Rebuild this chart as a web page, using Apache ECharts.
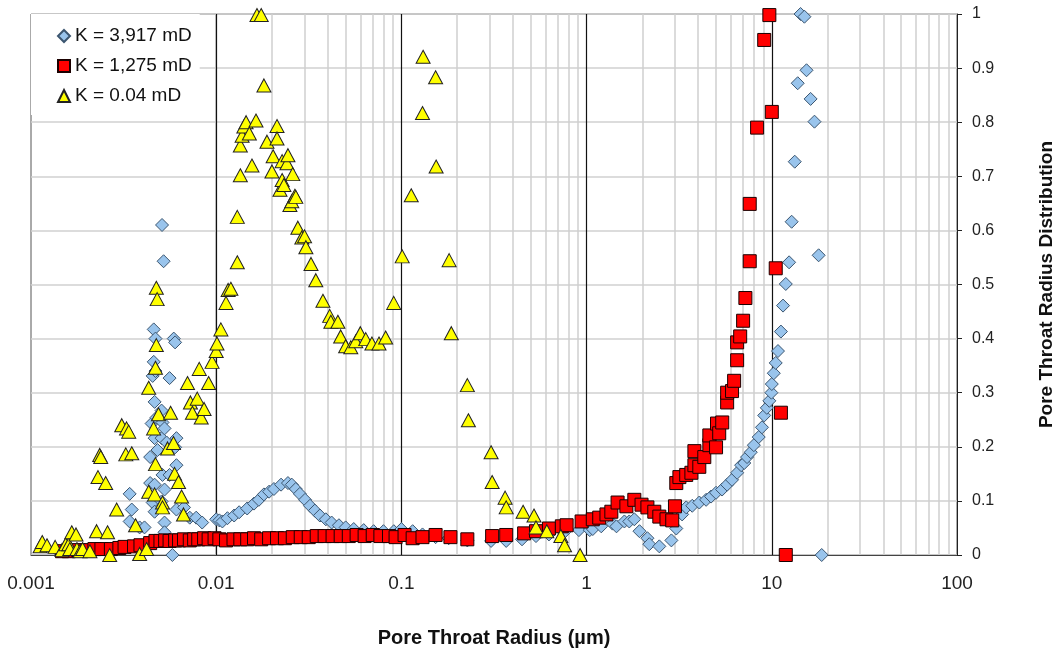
<!DOCTYPE html>
<html>
<head>
<meta charset="utf-8">
<script src="https://cdn.jsdelivr.net/npm/echarts@6/dist/echarts.min.js"></script>
<style>
html,body{margin:0;padding:0;background:#fff;}
#chart{width:1064px;height:653px;}
</style>
</head>
<body>
<div id="chart"></div>
<script>
// ---- Data (x = pore throat radius in µm, y = distribution) ----
const seriesNames = ['K = 3,917 mD', 'K = 1,275 mD', 'K = 0.04 mD'];
const xTickLabels = ['0.001', '0.01', '0.1', '1', '10', '100'];
const yTickLabels = ['0', '0.1', '0.2', '0.3', '0.4', '0.5', '0.6', '0.7', '0.8', '0.9', '1'];

const k3917 = [
  [0.0014,0.007],[0.0019,0.009],[0.0027,0.011],[0.003,0.015],
  [0.00341,0.113],[0.00341,0.062],[0.0035,0.084],[0.00386,0.051],[0.0041,0.051],
  [0.0044,0.181],[0.0044,0.133],[0.00448,0.243],[0.00454,0.331],[0.00454,0.097],[0.00454,0.026],
  [0.00465,0.283],[0.00465,0.216],[0.00465,0.13],[0.00465,0.08],[0.00476,0.254],[0.00482,0.194],
  [0.00507,0.267],[0.00507,0.216],[0.00507,0.099],[0.00513,0.245],[0.00513,0.148],
  [0.00526,0.234],[0.00526,0.121],[0.00526,0.06],[0.00526,0.042],[0.0054,0.208],
  [0.0056,0.327],[0.0056,0.148],[0.0058,0.0],[0.006,0.199],[0.0061,0.216],[0.0061,0.166],
  [0.0061,0.084],[0.0067,0.088],[0.0072,0.069],[0.0078,0.069],[0.0084,0.06],
  [0.0051,0.61],[0.0052,0.543],[0.0046,0.417],[0.0047,0.40],[0.0059,0.40],[0.006,0.393],[0.0046,0.357],[0.0047,0.34],
  [0.01,0.066],[0.0104,0.064],[0.0108,0.062],[0.0115,0.068],[0.0125,0.073],[0.0133,0.079],
  [0.0147,0.086],[0.016,0.095],[0.017,0.102],[0.0181,0.112],[0.0193,0.117],[0.0205,0.122],
  [0.0224,0.13],[0.0244,0.133],[0.0256,0.13],[0.0269,0.122],[0.0283,0.113],[0.0302,0.102],
  [0.0321,0.091],[0.0341,0.082],[0.0363,0.073],[0.0391,0.066],[0.042,0.06],[0.046,0.055],
  [0.05,0.051],[0.0553,0.048],[0.0626,0.046],[0.0708,0.044],[0.08,0.044],[0.091,0.044],
  [0.1,0.048],[0.115,0.044],[0.13,0.038],[0.153,0.033],[0.18,0.031],[0.227,0.027],
  [0.305,0.026],[0.368,0.026],[0.448,0.029],[0.533,0.035],[0.626,0.038],[0.756,0.042],
  [0.909,0.046],[1.04,0.046],[1.08,0.048],[1.2,0.053],[1.38,0.058],[1.45,0.053],
  [1.6,0.062],[1.7,0.062],[1.81,0.066],[1.93,0.044],[2.13,0.031],[2.18,0.02],
  [2.47,0.016],[2.87,0.027],[3.05,0.049],[3.28,0.075],[3.45,0.088],[3.72,0.091],
  [4.06,0.097],[4.42,0.102],[4.7,0.108],[5.0,0.115],[5.39,0.121],[5.74,0.13],
  [6.1,0.139],[6.5,0.152],[6.83,0.166],[7.1,0.17],[7.35,0.181],[7.7,0.19],[8.0,0.203],
  [8.5,0.218],[8.85,0.236],[9.1,0.258],[9.4,0.272],[9.7,0.285],[9.95,0.3],[10.0,0.316],
  [10.25,0.336],[10.5,0.355],[10.8,0.377],[11.2,0.413],[11.5,0.461],[11.9,0.501],
  [12.4,0.541],[12.8,0.616],[13.3,0.727],[13.8,0.872],[14.3,1.0],[15.0,0.995],
  [15.4,0.896],[16.2,0.843],[17.0,0.801],[17.9,0.554],[18.6,0.0]
];

const k1275 = [
  [0.00147,0.007],[0.0016,0.007],[0.0018,0.009],[0.002,0.009],[0.0022,0.011],[0.0024,0.011],
  [0.0027,0.011],[0.003,0.013],[0.0032,0.015],[0.0036,0.016],[0.0039,0.018],[0.0044,0.022],
  [0.0047,0.026],[0.005,0.026],[0.0053,0.027],[0.0056,0.026],[0.006,0.027],[0.0063,0.027],
  [0.0067,0.029],[0.0072,0.027],[0.0076,0.029],[0.008,0.029],[0.0086,0.031],[0.0091,0.029],
  [0.0098,0.031],[0.0104,0.029],[0.0113,0.027],[0.0124,0.029],[0.0135,0.029],[0.0147,0.029],
  [0.016,0.031],[0.0175,0.029],[0.0193,0.031],[0.0213,0.031],[0.0235,0.031],[0.0259,0.033],
  [0.0286,0.033],[0.0316,0.033],[0.0349,0.035],[0.0385,0.035],[0.0425,0.035],[0.047,0.035],
  [0.052,0.035],[0.0573,0.037],[0.0633,0.035],[0.07,0.037],[0.077,0.035],[0.0857,0.035],
  [0.093,0.033],[0.104,0.037],[0.115,0.031],[0.13,0.033],[0.153,0.037],[0.184,0.033],
  [0.227,0.029],[0.309,0.035],[0.368,0.037],[0.46,0.04],[0.533,0.044],[0.626,0.049],
  [0.735,0.053],[0.78,0.055],[0.94,0.062],[1.08,0.066],[1.17,0.069],[1.28,0.075],
  [1.36,0.08],[1.47,0.097],[1.64,0.09],[1.81,0.102],[1.98,0.093],[2.13,0.088],
  [2.32,0.08],[2.47,0.071],[2.7,0.066],[2.9,0.064],[3.0,0.09],[3.05,0.133],[3.17,0.144],
  [3.45,0.148],[3.68,0.152],[3.82,0.166],[3.82,0.192],[4.06,0.163],[4.32,0.181],
  [4.6,0.203],[4.6,0.221],[5.0,0.199],[5.06,0.243],[5.2,0.225],[5.4,0.245],[5.74,0.282],
  [5.74,0.3],[6.1,0.303],[6.26,0.322],[6.5,0.36],[6.5,0.393],[6.75,0.404],[7.0,0.433],
  [7.2,0.475],[7.6,0.543],[7.6,0.649],[8.33,0.79],[9.1,0.952],[9.7,0.998],[10.0,0.819],
  [10.5,0.53],[11.2,0.263],[11.9,0.0]
];

const k004 = [
  [0.00112,0.016],[0.00115,0.024],[0.00122,0.018],[0.00135,0.015],[0.00147,0.009],
  [0.00154,0.02],[0.0016,0.02],[0.00162,0.011],[0.00166,0.042],[0.00175,0.038],
  [0.00177,0.011],[0.00184,0.007],[0.0019,0.011],[0.00208,0.007],[0.00226,0.044],
  [0.0023,0.144],[0.00235,0.185],[0.00238,0.181],[0.00253,0.133],[0.00259,0.042],
  [0.00266,0.0],[0.0029,0.084],[0.00309,0.24],[0.00328,0.234],[0.00337,0.228],
  [0.00325,0.186],[0.0035,0.188],[0.00367,0.055],[0.00386,0.002],[0.00421,0.011],
  [0.00432,0.309],[0.00432,0.117],[0.00459,0.234],[0.00465,0.112],[0.0047,0.168],
  [0.00488,0.26],[0.00513,0.097],[0.00513,0.088],[0.00546,0.197],[0.00567,0.263],
  [0.00588,0.207],[0.00596,0.15],[0.00626,0.135],[0.0065,0.108],[0.00666,0.075],
  [0.007,0.318],[0.00726,0.282],[0.00744,0.263],[0.0079,0.289],[0.0083,0.254],
  [0.0086,0.27],[0.0091,0.318],[0.0081,0.344],
  [0.00475,0.494],[0.0048,0.473],[0.00475,0.388],[0.0047,0.346],
  [0.0095,0.357],[0.01,0.377],[0.0101,0.391],[0.0106,0.417],[0.0113,0.466],[0.0116,0.49],
  [0.012,0.492],[0.013,0.541],[0.013,0.625],[0.0135,0.702],[0.0135,0.757],[0.0138,0.775],
  [0.0141,0.792],[0.0145,0.80],[0.0151,0.779],[0.0156,0.72],[0.0164,0.803],[0.0166,0.998],
  [0.0175,0.998],[0.0181,0.868],[0.0188,0.764],[0.02,0.709],[0.0203,0.737],[0.0213,0.793],
  [0.0213,0.77],[0.0221,0.675],[0.0227,0.728],[0.0227,0.693],[0.0232,0.684],[0.0241,0.724],
  [0.0244,0.739],[0.025,0.647],[0.0256,0.654],[0.0259,0.704],[0.0266,0.664],[0.0269,0.662],
  [0.0276,0.605],[0.029,0.587],[0.030,0.589],[0.0305,0.569],[0.0325,0.538],[0.0345,0.508],
  [0.0377,0.47],[0.041,0.442],[0.0416,0.431],[0.0454,0.431],[0.047,0.404],[0.05,0.386],
  [0.0533,0.384],[0.0567,0.395],[0.06,0.41],[0.0642,0.399],[0.0693,0.391],[0.0757,0.391],
  [0.0822,0.402],[0.0909,0.466],[0.101,0.552],[0.113,0.665],[0.13,0.817],[0.131,0.921],
  [0.153,0.883],[0.154,0.718],[0.181,0.545],[0.186,0.41],[0.227,0.314],[0.23,0.249],
  [0.305,0.19],[0.309,0.135],[0.363,0.106],[0.368,0.088],[0.454,0.08],[0.52,0.073],
  [0.533,0.051],[0.61,0.044],[0.726,0.035],[0.76,0.018],[0.922,0.0]
];

// ---- gridline positions (axis decoration) ----
const decades = [0.001, 0.01, 0.1, 1, 10, 100];
const minorLines = [];
for (let i = 0; i < decades.length - 1; i++) {
  for (let m = 2; m <= 9; m++) minorLines.push({ xAxis: +(decades[i] * m).toPrecision(3) });
}
const majorLines = decades.slice(1, -1).map(v => ({ xAxis: v }));

const FONT = '"Liberation Sans", Arial, sans-serif';
const chart = echarts.init(document.getElementById('chart'), null, { renderer: 'canvas' });

chart.setOption({
  animation: false,
  backgroundColor: '#fff',
  textStyle: { fontFamily: FONT },
  grid: { left: 31, right: 104, top: 14, bottom: 92, show: true, borderColor: '#555', borderWidth: 1, backgroundColor: 'transparent' },
  legend: {
    orient: 'vertical', left: 31, top: 14,
    padding: [12, 8, 9, 26],
    itemGap: 10, itemWidth: 12, itemHeight: 12,
    backgroundColor: '#fff',
    textStyle: { fontSize: 19, color: '#111', fontFamily: FONT, lineHeight: 20 },
    data: [
      { name: seriesNames[0], icon: 'diamond' },
      { name: seriesNames[1], icon: 'rect' },
      { name: seriesNames[2], icon: 'triangle' }
    ]
  },
  xAxis: {
    type: 'log', logBase: 10, min: 0.001, max: 100,
    name: 'Pore Throat Radius (\u00b5m)', nameLocation: 'middle', nameGap: 73,
    nameTextStyle: { fontSize: 20, fontWeight: 'bold', color: '#111', fontFamily: FONT },
    axisLine: { show: true, onZero: false, lineStyle: { color: '#444', width: 1 } },
    axisTick: { show: false },
    axisLabel: {
      fontSize: 19, color: '#222', margin: 19, fontFamily: FONT,
      formatter: v => { const i = decades.findIndex(d => Math.abs(Math.log10(d) - Math.log10(v)) < 1e-6); return i >= 0 ? xTickLabels[i] : ''; }
    },
    splitLine: { show: false }
  },
  yAxis: {
    type: 'value', position: 'right', min: 0, max: 1, interval: 0.1,
    name: 'Pore Throat Radius Distribution', nameLocation: 'middle', nameGap: 80, nameRotate: 90,
    nameTextStyle: { fontSize: 19, fontWeight: 'bold', color: '#111', fontFamily: FONT },
    axisLine: { show: true, lineStyle: { color: '#222', width: 1 } },
    axisTick: { show: true, inside: false, length: 5, lineStyle: { color: '#222' } },
    axisLabel: {
      fontSize: 16, color: '#222', margin: 15, fontFamily: FONT,
      formatter: v => yTickLabels[Math.round(v * 10)]
    },
    splitLine: { show: true, lineStyle: { color: '#d0d0d0', width: 1.5 } }
  },
  series: [
    {
      name: 'grid-lines', type: 'scatter', data: [], silent: true, z: 1,
      markLine: {
        silent: true, symbol: ['none', 'none'], label: { show: false }, z: 1, animation: false,
        data: [
          ...minorLines.map(d => ({ ...d, lineStyle: { color: '#cfcfcf', width: 1.5, type: 'solid' } })),
          ...majorLines.map(d => ({ ...d, lineStyle: { color: '#111', width: 1.2, type: 'solid' } }))
        ]
      }
    },
    {
      name: seriesNames[0], type: 'scatter', symbol: 'diamond', symbolSize: 13, z: 3,
      itemStyle: { color: '#99c4ec', borderColor: '#3c5670', borderWidth: 1, opacity: 1 },
      data: k3917
    },
    {
      name: seriesNames[1], type: 'scatter', symbol: 'rect', symbolSize: 13, z: 4,
      itemStyle: { color: '#ff0000', borderColor: '#1a0000', borderWidth: 1, opacity: 1 },
      data: k1275
    },
    {
      name: seriesNames[2], type: 'scatter', symbol: 'triangle', symbolSize: [14, 13], z: 5,
      itemStyle: { color: '#ffff00', borderColor: '#222', borderWidth: 1, opacity: 1 },
      data: k004
    }
  ]
});
</script>
</body>
</html>
